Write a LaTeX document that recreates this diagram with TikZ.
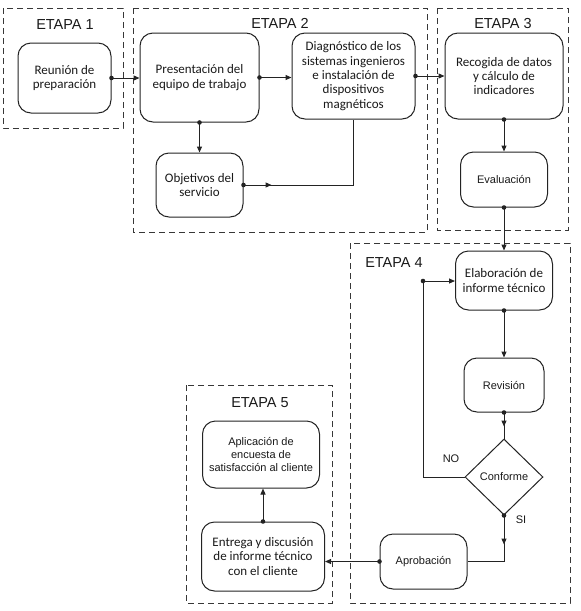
\documentclass[tikz,border=0pt]{standalone}
\usepackage{fontspec}
\setmainfont{Carlito}
\newfontfamily\arialf{Liberation Sans}
\usetikzlibrary{arrows.meta,decorations.markings,shapes.geometric}
\definecolor{ln}{RGB}{35,35,35}
\definecolor{fr}{RGB}{55,55,55}
\definecolor{tx}{RGB}{25,25,25}
\tikzset{
  frame/.style={draw=fr, line width=0.9pt, dash pattern=on 6pt off 4pt},
  box/.style={draw=ln, line width=1pt, rounded corners=13pt, align=center, inner sep=0pt, text=tx,
    font=\fontsize{13}{14.3}\selectfont},
  sbox/.style={box, font=\arialf\fontsize{11}{13}\selectfont},
  etapa/.style={text=tx, font=\arialf\fontsize{14.5}{16}\selectfont},
  lbl/.style={text=tx, font=\arialf\fontsize{11}{13}\selectfont},
  wire/.style={draw=ln, line width=1pt},
  conn/.style={wire, -{Triangle[length=6pt,width=5pt]}},
  midarrow/.style={postaction={decorate}, decoration={markings,
    mark=at position #1 with {\arrow{Triangle[length=6pt,width=5pt]}}}},
  dot/.style={fill=ln}
}
\begin{document}
\begin{tikzpicture}[x=1pt,y=-1pt]
\useasboundingbox (0,0) rectangle (581,611);
% frames
\draw[frame] (3,8) rectangle (123,128);
\draw[frame] (133,8) rectangle (427,232);
\draw[frame] (437,8) rectangle (568,230);
\draw[frame] (350,243) rectangle (570,603);
\draw[frame] (186,385) rectangle (332,603);
% stage labels
\node[etapa] (e1) at (65,25) {ETAPA 1};
\node[etapa] (e2) at (280,23) {ETAPA 2};
\node[etapa] (e3) at (503,24) {ETAPA 3};
\node[etapa] (e4) at (394,263) {ETAPA 4};
\node[etapa] (e5) at (260,403) {ETAPA 5};
% nodes
\node[box, minimum width=93, minimum height=70] (reu) at (64.5,78) {Reunión de\\preparación};
\node[box, minimum width=119, minimum height=89] (pres) at (199.5,77.5) {Presentación del\\equipo de trabajo};
\node[box, minimum width=87, minimum height=64] (obj) at (199.5,185) {Objetivos del\\servicio};
\node[box, minimum width=123, minimum height=86] (diag) at (353.5,76) {Diagnóstico de los\\sistemas ingenieros\\e instalación de\\dispositivos\\magnéticos};
\node[box, minimum width=118, minimum height=86] (rec) at (504,76) {Recogida de datos\\y cálculo de\\indicadores};
\node[sbox, minimum width=87, minimum height=55] (eval) at (504,179.5) {Evaluación};
\node[box, minimum width=97, minimum height=59] (elab) at (504,280.5) {Elaboración de\\informe técnico};
\node[sbox, minimum width=80, minimum height=54] (rev) at (504,385) {Revisión};
\node[draw=ln, line width=1pt, diamond, aspect=1, inner sep=0pt, minimum width=78, minimum height=76,
  text=tx, font=\arialf\fontsize{11}{13}\selectfont] (conf) at (504,477) {Conforme};
\node[sbox, minimum width=87, minimum height=55] (apr) at (423.5,561.5) {Aprobación};
\node[box, minimum width=123, minimum height=69] (ent) at (263,556.5) {Entrega y discusión\\de informe técnico\\con el cliente};
\node[sbox, minimum width=117, minimum height=67] (apl) at (261,454.5) {Aplicación de\\encuesta de\\satisfacción al cliente};
\coordinate (noc) at (423,281);
% connectors
\draw[conn] (reu.east) -- (pres.west |- reu.east);
\fill[dot] (reu.east) circle (2.3pt);
\draw[conn] (pres.east) -- (diag.west |- pres.east);
\fill[dot] (pres.east) circle (2.3pt);
\draw[conn] (pres.south) -- (obj.north);
\fill[dot] (pres.south) circle (2.3pt);
\draw[wire, midarrow=28pt] (obj.east) -- (obj.east -| diag.south) -- (diag.south);
\fill[dot] (obj.east) circle (2.3pt);
\draw[conn] (diag.east) -- (rec.west |- diag.east);
\fill[dot] (diag.east) circle (2.3pt);
\draw[conn] (rec.south) -- (eval.north);
\fill[dot] (rec.south) circle (2.3pt);
\draw[conn] (eval.south) -- (elab.north);
\fill[dot] (eval.south) circle (2.3pt);
\draw[conn] (elab.south) -- (rev.north);
\fill[dot] (elab.south) circle (2.3pt);
\draw[wire, midarrow=14pt] (rev.south) -- (conf.north);
\fill[dot] (rev.south) circle (2.3pt);
\draw[conn] (conf.west) -- (conf.west -| noc) -- (noc) -- (noc -| elab.west);
\fill[dot] (noc) circle (2.3pt);
\draw[wire, midarrow=29pt] (conf.south) |- (apr.east);
\fill[dot] (conf.south) circle (2.3pt);
\draw[conn] (apr.west) -- (apr.west -| ent.east);
\fill[dot] (apr.west) circle (2.3pt);
\draw[conn] (ent.north) -- (ent.north |- apl.south);
\fill[dot] (ent.north) circle (2.3pt);
% branch labels
\node[lbl] (no) at (451,459) {NO};
\node[lbl] (si) at (521,520) {SI};
\end{tikzpicture}
\end{document}
